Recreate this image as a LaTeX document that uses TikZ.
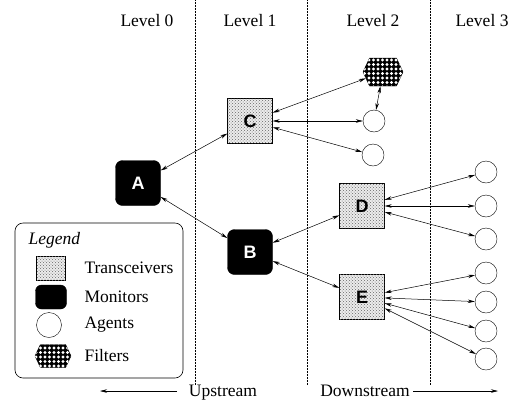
\documentclass[tikz,border=0pt]{standalone}
\usepackage{fontspec}
\setmainfont{Liberation Serif}
\newfontfamily\letterfont{Liberation Sans}
\usetikzlibrary{shapes.geometric,shapes.symbols,patterns,patterns.meta,arrows.meta}

\tikzset{
    letter/.style={font=\letterfont\bfseries\fontsize{18}{18}\selectfont},
    transceiver/.style={draw, minimum size=45pt, inner sep=0pt, letter,
        fill=gray!15, postaction={pattern=crosshatch dots, pattern color=black!60}},
    monitor/.style={draw, fill=black, text=white, rounded corners=7pt,
        minimum size=45pt, inner sep=0pt, letter},
    agent/.style={draw, circle, minimum size=22pt, inner sep=0pt},
    filter/.style={draw, shape=signal, signal to=east and west, signal pointer angle=130,
        minimum width=40pt, minimum height=28pt, inner sep=0pt, fill=black,
        postaction={pattern={Dots[distance=4.5pt, radius=1.6pt]}, pattern color=white}},
    levelline/.style={densely dotted, line width=0.5pt},
    link/.style={<->, line width=0.5pt},
}

\begin{document}
\begin{tikzpicture}[x=1pt, y=-1pt, font=\fontsize{17.5}{20}\selectfont,
    >={Stealth[length=7pt, width=3.5pt]}]
    \useasboundingbox (0,0) rectangle (529,402);

    % levels
    \draw[levelline] (195,0) -- (195,385);
    \draw[levelline] (307,0) -- (307,385);
    \draw[levelline] (430,0) -- (430,385);
    \node (L0) at (147,21) {Level 0};
    \node (L1) at (250,21) {Level 1};
    \node (L2) at (373,21) {Level 2};
    \node (L3) at (482,21) {Level 3};

    % hierarchy
    \node[monitor] (A) at (138,183) {A};
    \node[monitor] (B) at (250,252) {B};
    \node[transceiver] (C) at (250,121) {C};
    \node[transceiver] (D) at (362,206) {D};
    \node[transceiver] (E) at (362,297) {E};
    \node[filter] (F) at (383,72) {};
    \node[agent] (c1) at (374,121) {};
    \node[agent] (c2) at (373,155) {};
    \node[agent] (d1) at (486,172) {};
    \node[agent] (d2) at (486,206) {};
    \node[agent] (d3) at (486,239) {};
    \node[agent] (e1) at (486,273) {};
    \node[agent] (e2) at (486,302) {};
    \node[agent] (e3) at (486,331) {};
    \node[agent] (e4) at (486,359) {};

    \draw[link] (A) to (C);
    \draw[link] (A) to (B);
    \draw[link] (B) to (D);
    \draw[link] (B) to (E);
    \draw[link] (C) to (F);
    \draw[link] (C) to (c1);
    \draw[link] (C) to (c2);
    \draw[link] (F) to (c1);
    \foreach \n in {d1,d2,d3}
        \draw[link] (D) to (\n);
    \foreach \n in {e1,e2,e3,e4}
        \draw[link] (E) to (\n);

    % legend
    \draw[line width=0.6pt, rounded corners=8pt] (15,223) rectangle (183,378);
    \node[anchor=west] (leg) at (25,240) {\itshape Legend};
    \node[transceiver, minimum width=29pt, minimum height=24pt] (lt) at (51,268) {};
    \node[monitor, minimum width=31pt, minimum height=24pt, rounded corners=6pt] (lm) at (51,297) {};
    \node[agent, minimum size=25pt] (la) at (49,325) {};
    \node[filter, minimum width=36pt, minimum height=23pt] (lf) at (53,356) {};
    \node[anchor=west] (tt) at (81,268) {Transceivers};
    \node[anchor=west] (tm) at (81,297) {Monitors};
    \node[anchor=west] (ta) at (81,325) {Agents};
    \node[anchor=west] (tf) at (81,356) {Filters};

    % directions
    \node[anchor=base] (up) at (223,396) {Upstream};
    \node[anchor=base] (down) at (365,396) {Downstream};
    \coordinate (upstart) at (177,391);
    \coordinate (upend) at (100,391);
    \coordinate (downend) at (498,391);
    \draw[->, line width=0.5pt] (upstart) -- (upend);
    \draw[->, line width=0.5pt] (down.east |- downend) -- (downend);
\end{tikzpicture}
\end{document}
